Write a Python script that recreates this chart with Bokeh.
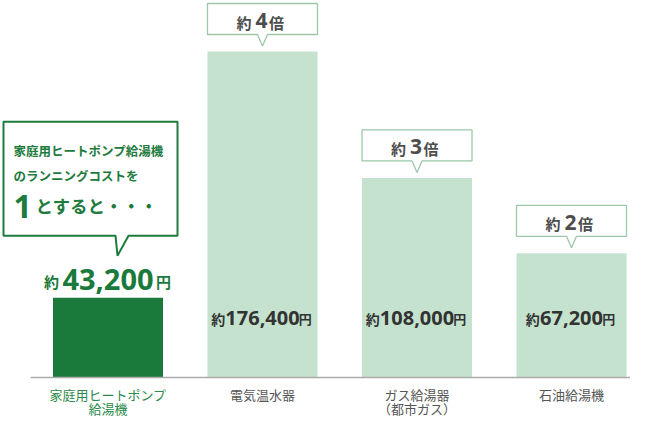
from bokeh.plotting import figure
from bokeh.models import Range1d
from bokeh.core.properties import value
from bokeh.embed import file_html
from bokeh.resources import INLINE

# ---- data ----
categories = ["家庭用ヒートポンプ\n給湯機", "電気温水器", "ガス給湯器\n（都市ガス）", "石油給湯機"]
costs = [43200, 176400, 108000, 67200]
cost_labels = ["43,200", "176,400", "108,000", "67,200"]
ratios = ["", "4", "3", "2"]
callout_lines = ["家庭用ヒートポンプ給湯機", "のランニングコストを"]
callout_one = "1"
callout_rest = "とすると・・・"

# ---- layout ----
W, H = 630, 419
STEP = 154.5
X0_PX = 107.5
BASE_PX = 377
TOP_PX = 51
upp = max(costs) / (BASE_PX - TOP_PX)

def dx(n):
    return n / STEP

def dy(n):
    return n * upp

JP = value("Noto Sans CJK JP")
NUM = value("Open Sans")
DARK = "#1a7a3b"
LIGHT = "#c4e2cd"
BORDER = "#9cc8a8"
GRAY = "#4d4d4d"

p = figure(width=W, height=H,
           x_range=Range1d(-X0_PX / STEP, (W - X0_PX) / STEP),
           y_range=Range1d(-(H - BASE_PX) * upp, BASE_PX * upp),
           output_backend="svg", toolbar_location=None, min_border=0,
           x_axis_type=None, y_axis_type=None)
p.outline_line_color = None
p.background_fill_color = "white"
p.border_fill_color = "white"

xs = list(range(len(categories)))
colors = [DARK] + [LIGHT] * (len(categories) - 1)
p.vbar(x=xs, top=costs, bottom=0, width=dx(110), fill_color=colors, line_color=None)

# baseline
p.segment(x0=[-0.5], y0=[0], x1=[(W - X0_PX) / STEP], y1=[0], line_color="#aaaaaa", line_width=1.5)

# category labels (one glyph per line)
label_colors = ["#2b8a4a"] + ["#555555"] * (len(categories) - 1)
for row in range(2):
    lx, ly, lt, lc = [], [], [], []
    for i, c in enumerate(categories):
        parts = c.split("\n")
        if row < len(parts):
            lx.append(i)
            ly.append(-dy(16.5 + 14 * row))
            lt.append(parts[row])
            lc.append(label_colors[i])
    p.text(x=lx, y=ly, text=lt, text_font=JP, text_font_size="13px",
           text_color=lc, text_align="center", text_baseline="middle")

# small callouts
for i in range(1, len(categories)):
    T = costs[i]
    xl, xr = i - dx(55), i + dx(55)
    yb, yt = T + dy(17), T + dy(48)
    tip = T + dy(5.5)
    px_ = [xl, i - dx(5), i, i + dx(5), xr, xr, xl]
    py_ = [yb, yb, tip, yb, yb, yt, yt]
    p.patch(px_, py_, fill_color="white", line_color=BORDER, line_width=1.3)
    p.text(x=[i], y=[T + dy(31)], text=[ratios[i]], text_font=NUM, text_font_style="bold",
           text_font_size="21px", text_color=GRAY, text_align="center", text_baseline="middle", x_offset=-1)
    p.text(x=[i], y=[T + dy(29.5)], text=["約"], text_font=JP, text_font_style="bold",
           text_font_size="15px", text_color=GRAY, text_align="right", text_baseline="middle", x_offset=-11)
    p.text(x=[i], y=[T + dy(29.5)], text=["倍"], text_font=JP, text_font_style="bold",
           text_font_size="15px", text_color=GRAY, text_align="left", text_baseline="middle", x_offset=6.5)

    # bar value label
    s = cost_labels[i]
    nd = sum(c.isdigit() for c in s)
    nc = s.count(",")
    hw = (nd * 0.55 * 20 + nc * 0.27 * 20) / 2
    yl = dy(60)
    p.text(x=[i], y=[yl], text=[s], text_font=NUM, text_font_style="bold",
           text_font_size="20px", text_color="#333333", text_align="center", text_baseline="middle")
    p.text(x=[i], y=[yl - dy(1)], text=["約"], text_font=JP, text_font_style="bold",
           text_font_size="14px", text_color="#333333", text_align="right", text_baseline="middle",
           x_offset=-(hw + 1.5))
    p.text(x=[i], y=[yl - dy(1)], text=["円"], text_font=JP, text_font_style="bold",
           text_font_size="13px", text_color="#333333", text_align="left", text_baseline="middle",
           x_offset=hw + 0.5)

# big callout for first bar
T = costs[0]
bx = [dx(-104.5), dx(7.5), dx(9.5), dx(20.5), dx(69.5), dx(69.5), dx(-104.5)]
by = [T + dy(62), T + dy(62), T + dy(42), T + dy(62), T + dy(62), T + dy(176), T + dy(176)]
p.patch(bx, by, fill_color="white", line_color="#1e7b3e", line_width=2)

tx = dx(-94.5)
p.text(x=[tx, tx], y=[T + dy(147), T + dy(122)], text=callout_lines, text_font=JP,
       text_font_style="bold", text_font_size="12.5px", text_color="#1e7b3e",
       text_align="left", text_baseline="middle")
p.text(x=[tx], y=[T + dy(91.5)], text=[callout_one], text_font=NUM, text_font_style="bold",
       text_font_size="32px", text_color="#1e7b3e", text_align="left", text_baseline="middle")
p.text(x=[dx(-72.5)], y=[T + dy(92)], text=[callout_rest], text_font=JP, text_font_style="bold",
       text_font_size="17.5px", text_color="#1e7b3e", text_align="left", text_baseline="middle")

# first bar value
p.text(x=[0], y=[T + dy(18.5)], text=[cost_labels[0]], text_font=NUM, text_font_style="bold",
       text_font_size="29px", text_color=DARK, text_align="center", text_baseline="middle")
p.text(x=[0], y=[T + dy(16)], text=["約"], text_font=JP, text_font_style="bold",
       text_font_size="15px", text_color=DARK, text_align="right", text_baseline="middle", x_offset=-49)
p.text(x=[0], y=[T + dy(16)], text=["円"], text_font=JP, text_font_style="bold",
       text_font_size="15px", text_color=DARK, text_align="left", text_baseline="middle", x_offset=48)

open("out.html", "w").write(file_html(p, INLINE))
